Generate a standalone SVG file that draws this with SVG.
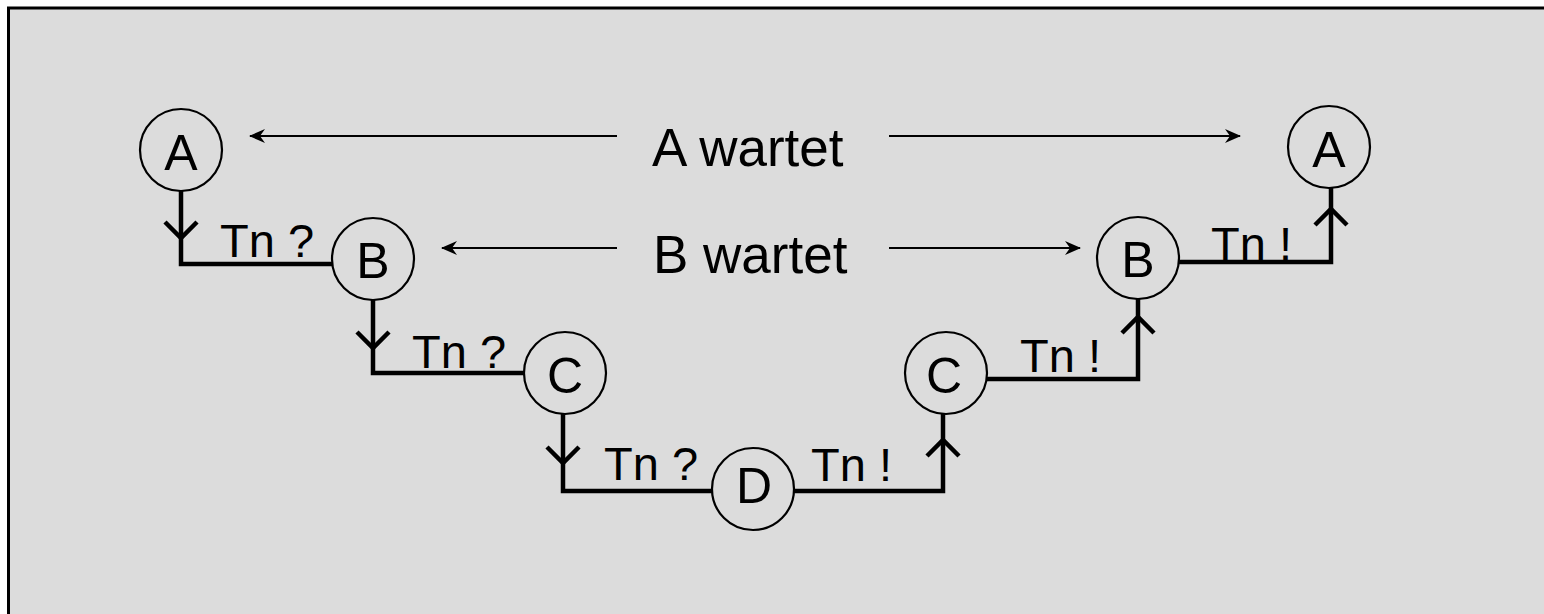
<svg xmlns="http://www.w3.org/2000/svg" width="1544" height="614" viewBox="0 0 1544 614">
  <defs>
    <marker id="head" viewBox="0 0 16 14" refX="15" refY="7" markerWidth="16" markerHeight="14" markerUnits="userSpaceOnUse" orient="auto">
      <path d="M0,0 L16,7 L0,14 L5,7 Z" fill="#000"/>
    </marker>
    <style>
      .node circle { fill: none; stroke: #000; stroke-width: 2.2; }
      .node text { font-family: "Liberation Sans", Arial, sans-serif; font-size: 50px; text-anchor: middle; fill: #000; }
      .flow { fill: none; stroke: #000; stroke-width: 4.5; stroke-linejoin: miter; stroke-linecap: butt; }
      .wait { fill: none; stroke: #000; stroke-width: 2.2; marker-end: url(#head); }
      .lbl { font-family: "Liberation Sans", Arial, sans-serif; font-size: 47px; fill: #000; }
      .big { font-family: "Liberation Sans", Arial, sans-serif; font-size: 53px; fill: #000; }
    </style>
  </defs>

  <!-- panel -->
  <rect x="0" y="0" width="1544" height="614" fill="#fff"/>
  <rect x="8.5" y="8" width="1600" height="700" fill="#dcdcdc" stroke="#000" stroke-width="3"/>

  <!-- connectors: descending and ascending steps, waiting spans -->
  <g id="connectors">
    <!-- A -> B (Tn ?) -->
    <path class="flow" d="M181,190 V264 H332"/>
    <path class="flow" d="M165,222 L181,238 L197,222"/>
    <!-- B -> C (Tn ?) -->
    <path class="flow" d="M373,300 V373 H525"/>
    <path class="flow" d="M357,332 L373,348 L389,332"/>
    <!-- C -> D (Tn ?) -->
    <path class="flow" d="M563,413 V491 H713"/>
    <path class="flow" d="M547,447 L563,463 L579,447"/>
    <!-- D -> C (Tn !) -->
    <path class="flow" d="M793,491 H943 V413"/>
    <path class="flow" d="M927,456 L943,440 L959,456"/>
    <!-- C -> B (Tn !) -->
    <path class="flow" d="M987,379 H1138 V299"/>
    <path class="flow" d="M1122,333 L1138,317 L1154,333"/>
    <!-- B -> A (Tn !) -->
    <path class="flow" d="M1178,262 H1331 V187"/>
    <path class="flow" d="M1315,225 L1331,209 L1347,225"/>

    <!-- waiting spans -->
    <line class="wait" x1="617" y1="136" x2="250" y2="136"/>
    <line class="wait" x1="889" y1="136" x2="1240" y2="136"/>
    <line class="wait" x1="617" y1="248" x2="442" y2="248"/>
    <line class="wait" x1="889" y1="248" x2="1080" y2="248"/>

    <text class="lbl" x="220" y="257">Tn ?</text>
    <text class="lbl" x="412" y="368">Tn ?</text>
    <text class="lbl" x="604" y="480">Tn ?</text>
    <text class="lbl" x="811" y="481">Tn !</text>
    <text class="lbl" x="1020" y="372">Tn !</text>
    <text class="lbl" x="1211" y="260">Tn !</text>

    <text class="big" x="652" y="166">A wartet</text>
    <text class="big" x="653" y="273">B wartet</text>
  </g>

  <g id="node-a-left" class="node">
    <circle cx="181" cy="150" r="41"/>
    <text x="181" y="170">A</text>
  </g>
  <g id="node-b-left" class="node">
    <circle cx="373" cy="259" r="41"/>
    <text x="373" y="278">B</text>
  </g>
  <g id="node-c-left" class="node">
    <circle cx="565" cy="373" r="41"/>
    <text x="565" y="393">C</text>
  </g>
  <g id="node-d" class="node">
    <circle cx="753" cy="489" r="41"/>
    <text x="754" y="503">D</text>
  </g>
  <g id="node-c-right" class="node">
    <circle cx="946" cy="373" r="41"/>
    <text x="944" y="393">C</text>
  </g>
  <g id="node-b-right" class="node">
    <circle cx="1138" cy="258" r="41"/>
    <text x="1138" y="277">B</text>
  </g>
  <g id="node-a-right" class="node">
    <circle cx="1329" cy="147" r="41"/>
    <text x="1329" y="167">A</text>
  </g>
</svg>
